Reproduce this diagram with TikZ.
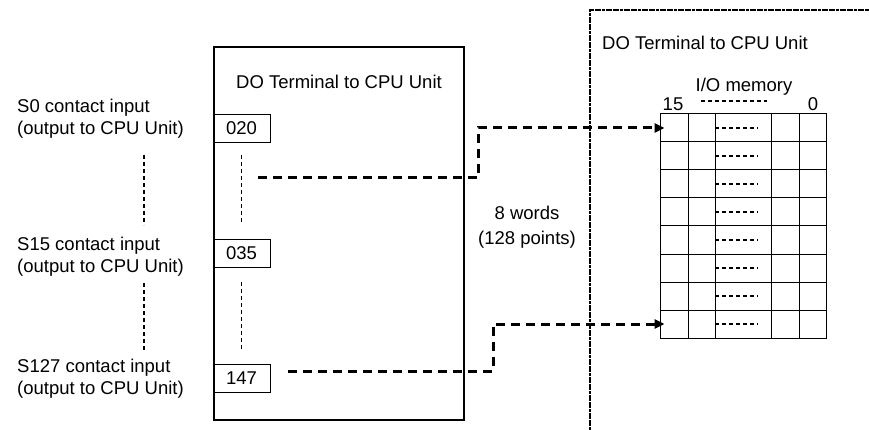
\documentclass[tikz,border=0pt]{standalone}
\usepackage{fontspec}
\setmainfont{Liberation Sans}
\usetikzlibrary{arrows.meta}

\begin{document}
\begin{tikzpicture}[x=1pt, y=-1pt, font=\fontsize{18.5}{22}\selectfont,
  addr/.style={draw, line width=0.8pt, minimum width=57pt, minimum height=28pt, inner sep=0pt},
  sigtext/.style={anchor=west, align=left, inner sep=0pt},
  thindash/.style={line width=1.7pt, dash pattern=on 4pt off 3pt},
  flow/.style={line width=3pt, dash pattern=on 9pt off 6pt, shorten >=-5pt,
    -{Triangle[length=10pt, width=9pt]}}]
  \useasboundingbox (0,0) rectangle (869,430);
  % left: terminal and its addresses
  \node[draw, line width=1.7pt, minimum width=250pt, minimum height=373pt] (term) at (339,233.5) {};
  \node (termtitle) at (339,82) {DO Terminal to CPU Unit};
  \node[addr] (a020) at (241.5,128) {020};
  \node[addr] (a035) at (241.5,253.5) {035};
  \node[addr] (a147) at (241.5,378.5) {147};
  \draw[thindash] ([yshift=-13pt]a020.south) -- ([yshift=14pt]a035.north);
  \draw[thindash] ([yshift=-14pt]a035.south) -- ([yshift=14pt]a147.north);
  \node[sigtext] (s0) at (17,119) {S0 contact input\\(output to CPU Unit)};
  \node[sigtext] (s15) at (17,257) {S15 contact input\\(output to CPU Unit)};
  \node[sigtext] (s127) at (17,379) {S127 contact input\\(output to CPU Unit)};
  \draw[thindash] (144,155) -- (144,225);
  \draw[thindash] (144,283) -- (144,352);
  % right: CPU Unit and its I/O memory
  \draw[line width=1.6pt, dash pattern=on 3pt off 0.6pt] (590,430) -- (590,10) -- (869,10);
  \node (cputitle) at (705,43) {DO Terminal to CPU Unit};
  \node (iomem) at (744,87) {I/O memory};
  \draw[line width=1.5pt, dash pattern=on 4pt off 3pt] (701,101) -- (767,101);
  \node (b15) at (673,104) {15};
  \node (b0) at (813,104) {0};
  \foreach \r in {1,...,8}{
    \node[draw, line width=1pt, minimum width=166pt, minimum height=28pt, inner sep=0pt] (row\r) at (743,100+28*\r) {};
    \draw[thindash] (715,100+28*\r) -- (758,100+28*\r);}
  \foreach \c in {688,715,771,799}
    \draw[line width=1pt] (\c,114) -- (\c,338);
  \node[align=center] (span) at (527,227) {8 words\\[3pt](128 points)};
  % transfers
  \coordinate (o020) at (258,178);
  \coordinate (o147) at (288,371);
  \draw[flow] (o020) -- (478,178) |- (row1.west);
  \draw[flow] (o147) -- (493,371) |- (row8.west);
\end{tikzpicture}
\end{document}
